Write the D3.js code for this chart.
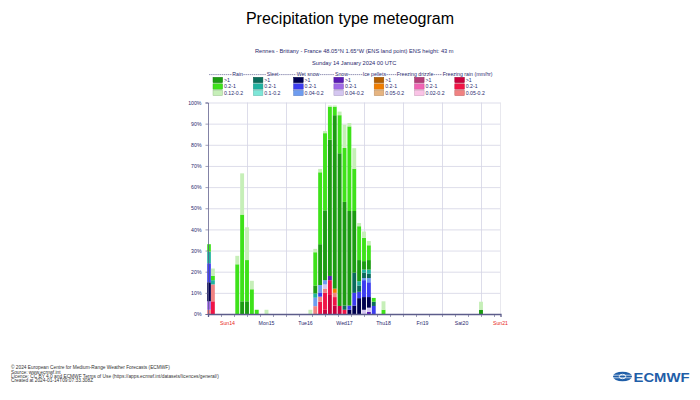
<!DOCTYPE html>
<html lang="en">
<head>
    <meta charset="UTF-8">
    <title>Precipitation type meteogram</title>
    <script src="https://d3js.org/d3.v7.min.js"></script>
    <style>
        body { margin: 0; background: #fff; }
        svg { display: block; font-family: 'Liberation Sans', Arial, sans-serif; }
    </style>
</head>
<body>
    <div id="chart"></div>
    <script>
        // forecast steps (hours after Sunday 14 January 2024 00 UTC) that have any precipitation
        const steps = [0, 3, 18, 21, 24, 27, 30, 36, 63, 66, 69, 72, 75, 78, 81, 84, 87, 90, 93, 96, 99, 102, 108, 168];

        // probabilities (%) per step, each [>1, 0.2-1, low] mm/hr
        const rain = [[0,3.5,0],[0,2,3.5],[0,23.5,4],[6,41,19.5],[6,19.5,15.5],[0,11.7,4],[0,2,0],[0,0,2],
            [0,0,2],[3.8,15.7,1.6],[19.3,34,1.6],[33,36.5,1],[64.5,15.5,0.6],[82,4,0.6],[72.2,18,1.7],[49,25.5,11],
            [44.7,40,1.6],[29.2,20,9.7],[10,16,1.5],[4,11,3],[4.5,7,2],[0,1.8,0],[0,2,4],[2,0,3.8]];
        const sleet = [[0,5.5,0],[0,2,0],[0,0,0],[0,0,0],[0,0,0],[0,0,0],[0,0,0],[0,0,0],
            [0,0,0],[0,2,0],[0,0,0],[0,0,0],[0,0,0],[0,0,0],[0,0,0],[2,0,0],
            [0,0,0],[9.5,0,0],[3,2,0],[2.5,1.5,0],[2,2,0],[2,0,0],[0,0,0],[0,0,0]];
        const wetSnow = [[9,9,0],[0,0,0],[0,0,0],[0,0,0],[0,0,0],[0,0,0],[0,0,0],[0,0,0],
            [0,0,0],[0,0,4],[0,2,3.5],[0,0,2],[0,0,0],[0,0,0],[0,0,0],[0,0,0],
            [2,2,0],[4,6,0],[7.5,3,0],[6,8,1],[5,7,2],[0,3.8,0],[0,0,0],[0,0,0]];
        const snow = [[0,4,0],[0,0,0],[0,0,0],[0,0,0],[0,0,0],[0,0,0],[0,0,0],[0,0,0],
            [0,0,0],[0,0,0],[0,0,0],[0,0,2],[2,0,0],[0,0,0],[0,0,0],[0,0,0],
            [0,0,0],[0,0,0],[0,0,0],[0,0,2],[1,0,2],[0,0,0],[0,0,0],[0,0,0]];
        const icePellets = [[0,0,0],[0,0,0],[0,0,0],[0,0,0],[0,0,0],[0,0,0],[0,0,0],[0,0,0],
            [0,0,0],[0,0,0],[0,0,0],[0,0,0],[0,0,0],[0,2,0],[0,0,0],[0,0,0],
            [0,0,0],[0,0,0],[0,0,0],[0,0,0],[0,0,0],[0,0,0],[0,0,0],[0,0,0]];
        const freezingDrizzle = steps.map(() => [0, 0, 0]);
        const freezingRain = [[0,0,2],[0,6,8],[0,0,0],[0,0,0],[0,0,0],[0,0,0],[0,0,0],[0,0,0],
            [0,0,0],[0,0,3.7],[0,5.8,2.4],[2,8,2],[9,7,0],[4,4,2],[3.8,0,0],[0,2,0],
            [0,0,0],[0,0,0],[0,0,0],[0,0,0],[0,0,0],[0,0,0],[0,0,0],[0,0,0]];

        // legend columns, left to right
        const types = ["Rain", "Sleet", "Wet snow", "Snow", "Ice pellets", "Freezing drizzle", "Freezing rain"];
        const typeData = [rain, sleet, wetSnow, snow, icePellets, freezingDrizzle, freezingRain];
        const lowLabels = ["0.12-0.2", "0.1-0.2", "0.04-0.2", "0.04-0.2", "0.05-0.2", "0.02-0.2", "0.05-0.2"];
        const colors = [
            ["#1c9c12", "#3ee21a", "#c6efb8"],
            ["#0b6b5b", "#20b2a0", "#7ee6d8"],
            ["#00004f", "#3c3cf0", "#6e9cf0"],
            ["#5a1ab4", "#a06ae6", "#d4c6f0"],
            ["#b45f00", "#f07d00", "#e6b480"],
            ["#b43c78", "#f064b4", "#fac3e6"],
            ["#c8003c", "#f01446", "#f08282"]
        ];
        const days = ["Sun14", "Mon15", "Tue16", "Wed17", "Thu18", "Fri19", "Sat20", "Sun21"];
        const yTicks = [0, 10, 20, 30, 40, 50, 60, 70, 80, 90, 100];

        const width = 700, height = 400;
        const navy = "#2a2a6e";

        const svg = d3.select("#chart").append("svg")
            .attr("width", width)
            .attr("height", height);

        const x = d3.scaleLinear().domain([0, 180]).range([208, 500.5]);
        const y = d3.scaleLinear().domain([0, 100]).range([314, 102.5]);

        // titles
        svg.append("text")
            .attr("x", 350).attr("y", 24)
            .attr("text-anchor", "middle")
            .attr("font-size", 16)
            .text("Precipitation type meteogram");

        const mid = (x.range()[0] + x.range()[1]) / 2;
        svg.append("text")
            .attr("x", mid).attr("y", 53)
            .attr("text-anchor", "middle")
            .attr("font-size", 5.7).attr("fill", navy)
            .text("Rennes - Brittany - France 48.05°N 1.65°W (ENS land point) ENS height: 43 m");
        svg.append("text")
            .attr("x", mid).attr("y", 65.2)
            .attr("text-anchor", "middle")
            .attr("font-size", 5.7).attr("fill", navy)
            .text("Sunday 14 January 2024 00 UTC");

        // legend
        const headerX = [232.3, 266.7, 296.7, 335, 362.7, 396.7, 442.7];
        const legend = svg.append("g").attr("font-size", 5.2).attr("fill", navy);
        let prevEnd = 209;
        types.forEach((t, i) => {
            const label = legend.append("text")
                .attr("x", headerX[i]).attr("y", 76.2)
                .text(i === types.length - 1 ? t + " (mm/hr)" : t);
            legend.append("line")
                .attr("x1", prevEnd).attr("x2", headerX[i] - 0.4)
                .attr("y1", 74.6).attr("y2", 74.6)
                .attr("stroke", navy).attr("stroke-width", 0.5)
                .attr("stroke-dasharray", "1.5 0.6");
            prevEnd = headerX[i] + label.node().getComputedTextLength() + 0.4;

            const cx = 213 + i * 40.3;
            [">1", "0.2-1", lowLabels[i]].forEach((txt, j) => {
                const c = colors[i][j];
                legend.append("rect")
                    .attr("x", cx).attr("y", 77.3 + j * 6.5)
                    .attr("width", 9.6).attr("height", 5.4)
                    .attr("fill", c)
                    .attr("stroke", d3.color(c).darker(0.6)).attr("stroke-width", 0.5);
                legend.append("text")
                    .attr("x", cx + 11).attr("y", 81.8 + j * 6.5)
                    .text(txt);
            });
        });

        // grid
        const grid = svg.append("g");
        grid.append("g")
            .attr("transform", `translate(${x.range()[0]},0)`)
            .call(d3.axisLeft(y).tickValues(yTicks).tickSize(-(x.range()[1] - x.range()[0])).tickFormat(""))
            .call(g => g.select(".domain").remove())
            .call(g => g.selectAll("line").attr("stroke", "#d4d4e4").attr("stroke-width", 0.8));
        grid.append("g")
            .attr("transform", `translate(0,${y(0)})`)
            .call(d3.axisBottom(x).tickValues(d3.range(24, 181, 24)).tickSize(-(y(0) - y(100))).tickFormat(""))
            .call(g => g.select(".domain").remove())
            .call(g => g.selectAll("line").attr("stroke", "#d4d4e4").attr("stroke-width", 0.8));
        grid.append("line")
            .attr("x1", x(180)).attr("x2", x(180))
            .attr("y1", y(100)).attr("y2", y(0))
            .attr("stroke", "#e2e2ea").attr("stroke-width", 0.8);

        // stacked bars, bottom to top: freezing rain ... rain, heavy class first
        const order = [6, 5, 4, 3, 2, 1, 0];
        const keys = [];
        order.forEach(i => [0, 1, 2].forEach(j => keys.push(i + "_" + j)));
        const table = steps.map((s, k) => {
            const row = { step: s };
            keys.forEach(key => {
                const [i, j] = key.split("_").map(Number);
                row[key] = typeData[i][k][j];
            });
            return row;
        });
        const series = d3.stack().keys(keys)(table);

        svg.append("clipPath").attr("id", "plot-clip")
            .append("rect")
            .attr("x", x.range()[0] - 0.8).attr("y", y(100) - 1)
            .attr("width", x.range()[1] - x.range()[0] + 0.8).attr("height", y(0) - y(100) + 1);

        const bw = 3.9;
        svg.append("g")
            .attr("clip-path", "url(#plot-clip)")
            .selectAll("g")
            .data(series)
            .join("g")
            .attr("fill", d => {
                const [i, j] = d.key.split("_").map(Number);
                return colors[i][j];
            })
            .selectAll("rect")
            .data(d => d.filter(p => p[1] - p[0] > 0))
            .join("rect")
            .attr("x", d => x(d.data.step) - bw / 2 + (d.data.step === 0 ? 0.9 : 0))
            .attr("width", bw)
            .attr("y", d => y(d[1]))
            .attr("height", d => y(d[0]) - y(d[1]));

        // axes
        const yAxis = svg.append("g")
            .attr("transform", `translate(${x.range()[0]},0)`)
            .call(d3.axisLeft(y).tickValues(yTicks).tickSize(2.5).tickPadding(4).tickFormat(d => d + "%"));
        yAxis.selectAll("text").attr("font-size", 5.2).attr("fill", navy).attr("font-family", null);
        yAxis.selectAll("line").attr("stroke", "#5c5c8a").attr("stroke-width", 0.6);
        yAxis.select(".domain").attr("stroke", "#5c5c8a").attr("stroke-width", 0.9).attr("stroke-opacity", 0.85);

        const xAxis = svg.append("g")
            .attr("transform", `translate(0,${y(0)})`)
            .call(d3.axisBottom(x).tickValues(d3.range(0, 181, 8)).tickSize(3).tickFormat(""));
        xAxis.selectAll("line").attr("stroke", "#5c5c8a").attr("stroke-width", 0.6);
        xAxis.select(".domain").attr("stroke", "#5c5c8a").attr("stroke-width", 1.3);

        svg.append("g")
            .selectAll("text")
            .data(days)
            .join("text")
            .attr("x", (d, i) => x(i * 24 + 12))
            .attr("y", 325)
            .attr("text-anchor", "middle")
            .attr("font-size", 5.2)
            .attr("fill", d => d.startsWith("Sun") ? "#e8261e" : navy)
            .text(d => d);

        // footer
        const footer = [
            "© 2024 European Centre for Medium-Range Weather Forecasts (ECMWF)",
            "Source: www.ecmwf.int",
            "Licence: CC BY 4.0 and ECMWF Terms of Use (https://apps.ecmwf.int/datasets/licences/general/)",
            "Created at 2024-01-14T09:07:33.308Z"
        ];
        svg.append("g")
            .selectAll("text")
            .data(footer)
            .join("text")
            .attr("x", 11)
            .attr("y", (d, i) => 369.3 + i * 4.3)
            .attr("font-size", 4.8)
            .attr("fill", "#333")
            .text(d => d);

        // ECMWF logo
        const logoBlue = "#1f5ea8";
        const logo = svg.append("g");
        logo.append("ellipse")
            .attr("cx", 622.5).attr("cy", 376.5)
            .attr("rx", 9.5).attr("ry", 4.8)
            .attr("fill", logoBlue);
        logo.append("ellipse")
            .attr("cx", 622.5).attr("cy", 376.5)
            .attr("rx", 3.2).attr("ry", 2.2)
            .attr("fill", "none").attr("stroke", "#fff").attr("stroke-width", 0.9);
        [-1.3, 1.3].forEach(dy => logo.append("line")
            .attr("x1", 613).attr("x2", 632)
            .attr("y1", 376.5 + dy).attr("y2", 376.5 + dy)
            .attr("stroke", "#fff").attr("stroke-width", 0.7));
        logo.append("text")
            .attr("x", 633.5).attr("y", 381.5)
            .attr("font-size", 13).attr("font-weight", "bold")
            .attr("fill", logoBlue)
            .attr("textLength", 56).attr("lengthAdjust", "spacingAndGlyphs")
            .text("ECMWF");
    </script>
</body>
</html>
